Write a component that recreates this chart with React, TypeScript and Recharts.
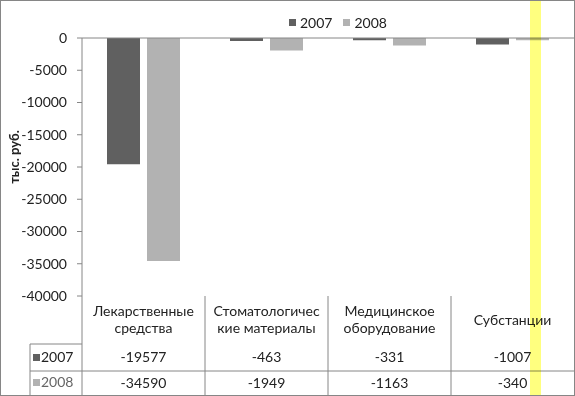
import { BarChart, Bar, XAxis, YAxis, ReferenceLine } from 'recharts';

const categories = ['Лекарственные средства', 'Стоматологические материалы', 'Медицинское оборудование', 'Субстанции'];
const categoryLines = [['Лекарственные', 'средства'], ['Стоматологичес', 'кие материалы'], ['Медицинское', 'оборудование'], ['Субстанции']];
const values2007 = [-19577, -463, -331, -1007];
const values2008 = [-34590, -1949, -1163, -340];
const yTicks = [0, -5000, -10000, -15000, -20000, -25000, -30000, -35000, -40000];

const C2007 = '#606060';
const C2008 = '#b2b2b2';
const GRID = '#868686';
const FONT = 'Lato, "Open Sans", sans-serif';

const data = categories.map((name, i) => ({ name, v2007: values2007[i], v2008: values2008[i] }));

const W = 575;
const H = 396;

function TableTick(props: any) {
  const { x, y, payload, index } = props;
  const half = payload?.offset || 61.5;
  const left = x - half;
  const right = x + half;
  const lines = categoryLines[index] || [];
  const row1 = y + 61;
  const row2 = y + 87;
  const sep = y + 75;
  const labelCenter = y + 24;
  return (
    <g>
      <line x1={left} x2={left} y1={y} y2={H} stroke={GRID} />
      <line x1={left} x2={right} y1={sep} y2={sep} stroke={GRID} />
      {lines.map((t, k) => (
        <text
          key={k}
          x={x}
          y={labelCenter + (k - (lines.length - 1) / 2) * 17}
          dy="0.35em"
          textAnchor="middle"
          fontSize={14}
          fill="#222"
        >
          {t}
        </text>
      ))}
      <text x={x} y={row1} dy="0.35em" textAnchor="middle" fontSize={14} fill="#222">
        {values2007[index]}
      </text>
      <text x={x} y={row2} dy="0.35em" textAnchor="middle" fontSize={14} fill="#222">
        {values2008[index]}
      </text>
      {index === 0 && (
        <g>
          <line x1={30} x2={30} y1={y + 48} y2={H} stroke={GRID} />
          <line x1={30} x2={left} y1={y + 48} y2={y + 48} stroke={GRID} />
          <line x1={30} x2={left} y1={sep} y2={sep} stroke={GRID} />
          <rect x={33} y={row1 - 3} width={7} height={7} fill={C2007} />
          <text x={41} y={row1} dy="0.35em" fontSize={14} fill="#222">2007</text>
          <rect x={33} y={row2 - 4} width={7} height={7} fill={C2008} />
          <text x={41} y={row2 - 1} dy="0.35em" fontSize={14} fill="#666">2008</text>
        </g>
      )}
    </g>
  );
}

function YLabel(props: any) {
  const vb = props.viewBox || { x: 0, y: 38, width: 82, height: 258 };
  const cx = vb.x + 14;
  const cy = vb.y + vb.height / 2 - 10;
  return (
    <text
      x={cx}
      y={cy}
      dy="0.35em"
      textAnchor="middle"
      fontSize={13}
      fontWeight="bold"
      fill="#222"
      transform={`rotate(-90, ${cx}, ${cy})`}
    >
      тыс. руб.
    </text>
  );
}

export default function App() {
  return (
    <div style={{ position: 'absolute', left: 0, top: 0, width: W, height: H, background: '#fff', fontFamily: FONT }}>
      <BarChart
        width={W}
        height={H}
        data={data}
        margin={{ top: 38, right: 1, left: 0, bottom: 0 }}
        barSize={33}
        barGap={7}
      >
        <YAxis
          width={82}
          domain={[-40000, 0]}
          ticks={yTicks}
          interval={0}
          tickSize={5}
          tickMargin={10}
          axisLine={{ stroke: GRID }}
          tickLine={{ stroke: GRID }}
          tick={{ fill: '#222', fontSize: 14 }}
          label={<YLabel />}
        />
        <XAxis
          dataKey="name"
          height={100}
          axisLine={false}
          tickLine={false}
          tickSize={0}
          tickMargin={0}
          interval={0}
          tick={<TableTick />}
        />
        <ReferenceLine y={0} stroke={GRID} />
        <Bar dataKey="v2007" fill={C2007} isAnimationActive={false} />
        <Bar dataKey="v2008" fill={C2008} isAnimationActive={false} />
      </BarChart>

      {/* legend */}
      <div style={{ position: 'absolute', left: 289, top: 14, display: 'flex', alignItems: 'center', fontSize: 14, color: '#222' }}>
        <div style={{ width: 7, height: 7, background: C2007, marginRight: 4 }} />
        <span style={{ marginRight: 11 }}>2007</span>
        <div style={{ width: 7, height: 7, background: C2008, marginRight: 4 }} />
        <span>2008</span>
      </div>

      {/* highlight band */}
      <div style={{ position: 'absolute', left: 530, top: 0, width: 11, height: H, background: 'rgba(255,255,0,0.5)', mixBlendMode: 'multiply', pointerEvents: 'none' }} />
      {/* outer frame */}
      <div style={{ position: 'absolute', left: 0, top: 0, width: W, height: H, boxSizing: 'border-box', border: `1px solid ${GRID}`, pointerEvents: 'none' }} />
    </div>
  );
}
